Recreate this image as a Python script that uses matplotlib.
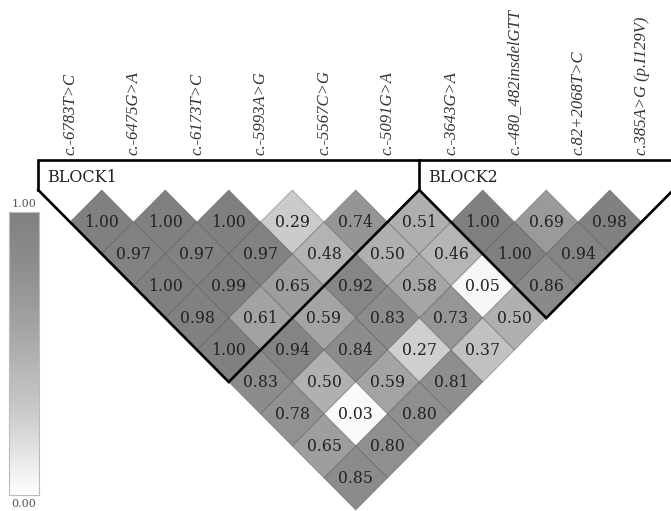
import matplotlib
matplotlib.use("Agg")
import matplotlib.pyplot as plt
from matplotlib.patches import Polygon
from matplotlib.colors import LinearSegmentedColormap
import numpy as np

snps = ["c.-6783T>C", "c.-6475G>A", "c.-6173T>C", "c.-5993A>G", "c.-5567C>G",
        "c.-5091G>A", "c.-3643G>A", "c.-480_482insdelGTT", "c.82+2068T>C",
        "c.385A>G (p.I129V)"]

# D' values by SNP distance (row 1 = adjacent pairs)
row1 = [1.00, 1.00, 1.00, 0.29, 0.74, 0.51, 1.00, 0.69, 0.98]
row2 = [0.97, 0.97, 0.97, 0.48, 0.50, 0.46, 1.00, 0.94]
row3 = [1.00, 0.99, 0.65, 0.92, 0.58, 0.05, 0.86]
row4 = [0.98, 0.61, 0.59, 0.83, 0.73, 0.50]
row5 = [1.00, 0.94, 0.84, 0.27, 0.37]
row6 = [0.83, 0.50, 0.59, 0.81]
row7 = [0.78, 0.03, 0.80]
row8 = [0.65, 0.80]
row9 = [0.85]
ld_rows = [row1, row2, row3, row4, row5, row6, row7, row8, row9]

blocks = [(0, 5, "BLOCK1"), (6, 9, "BLOCK2")]

cmap = LinearSegmentedColormap.from_list(
    "ldgray",
    [(0.0, (1.0, 1.0, 1.0)), (0.3, (0.79, 0.79, 0.79)), (0.6, (0.64, 0.64, 0.64)),
     (0.8, (0.56, 0.56, 0.56)), (1.0, (0.50, 0.50, 0.50))])

fig = plt.figure(figsize=(6.71, 5.11), dpi=100)
ax = fig.add_axes([0, 0, 1, 1])
ax.set_xlim(-70 / 63.5, (671 - 70) / 63.5)
ax.set_ylim((190 - 511) / 64, 190 / 64)
ax.axis("off")

for d, vals in enumerate(ld_rows, start=1):
    for i, v in enumerate(vals):
        j = i + d
        cx = (i + j) / 2
        cy = -d / 2
        poly = Polygon([(cx, cy + 0.5), (cx + 0.5, cy), (cx, cy - 0.5), (cx - 0.5, cy)],
                       closed=True, facecolor=cmap(v), edgecolor=(0.25, 0.25, 0.25, 0.35),
                       linewidth=0.7, zorder=1)
        ax.add_patch(poly)
        ax.text(cx, cy, f"{v:.2f}", ha="center", va="center", fontsize=11.3,
                family="DejaVu Serif", color="#222222", zorder=3)

top_y = 0.469
lw = 1.9
# header frame
ax.plot([-0.5, -0.5, 9.5, 9.5], [0, top_y, top_y, 0], color="black", lw=lw,
        solid_joinstyle="miter", zorder=4)
for (a, b, name) in blocks:
    left = a - 0.5
    right = b + 0.5
    bx = (a + b) / 2
    by = -(b - a) / 2 - 0.5
    ax.plot([left, bx, right], [0, by, 0], color="black", lw=lw,
            solid_joinstyle="miter", zorder=4)
    ax.text(left + 0.14, 0.203, name, ha="left", va="center", fontsize=11.5,
            family="DejaVu Serif", color="#222222", zorder=5)
# divider between blocks
ax.plot([5.5, 5.5], [0, top_y], color="black", lw=lw, zorder=4)

for k, name in enumerate(snps):
    ax.text(k, 0.547, name, rotation=90, ha="center", va="bottom", fontsize=12,
            family="Liberation Serif", style="italic", color="#333333", zorder=5)

# colour bar
cax = fig.add_axes([9 / 671, (511 - 495) / 511, 30 / 671, 283 / 511])
grad = np.linspace(0, 1, 256).reshape(-1, 1)
cax.imshow(grad, aspect="auto", cmap=cmap, origin="lower", extent=[0, 1, 0, 1])
cax.set_xticks([])
cax.set_yticks([])
for s in cax.spines.values():
    s.set_color("#bbbbbb")
    s.set_linewidth(0.8)
fig.text(24 / 671, 1 - 204 / 511, "1.00", ha="center", va="center", fontsize=8,
         family="DejaVu Serif", color="#555555")
fig.text(24 / 671, 1 - 504 / 511, "0.00", ha="center", va="center", fontsize=8,
         family="DejaVu Serif", color="#555555")

fig.savefig("out.png", dpi=100)
